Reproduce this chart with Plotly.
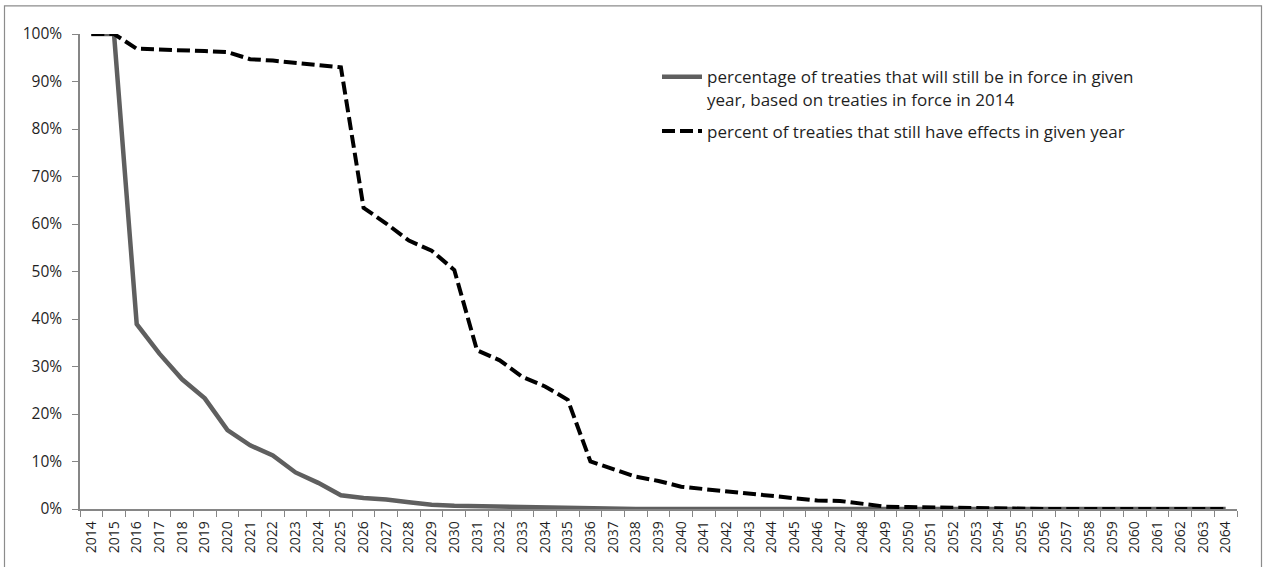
import plotly.graph_objects as go

years = [str(y) for y in range(2014, 2065)]

in_force = [100, 100, 38.9, 32.7, 27.3, 23.3, 16.6, 13.4, 11.3, 7.7, 5.5, 2.9, 2.3, 2.0,
            1.4, 0.9, 0.7, 0.6, 0.5, 0.4, 0.3, 0.1] + [0] * 29

effects = [100, 100, 96.9, 96.8, 96.6, 96.4, 96.2, 94.7, 94.4, 94.0, 93.5, 93.0, 63.4, 60.1,
           56.5, 54.4, 50.3, 33.4, 31.3, 27.8, 25.8, 23.0, 10.0, 8.3, 6.8, 5.9, 4.7, 4.2,
           3.7, 3.1, 2.6, 2.2, 1.8, 1.7, 1.0, 0.5, 0.4, 0.3, 0.2, 0.1] + [0] * 11

name_in_force = "percentage of treaties that will still be in force in given<br>year, based on treaties in force in 2014"
name_effects = "percent of treaties that still have effects in given year"

in_force_frac = [v / 100 for v in in_force]
effects_frac = [v / 100 for v in effects]

W, H = 1263, 567
L, R, T, B = 80, 1237, 33.7, 509.3

fig = go.Figure()
fig.add_trace(go.Scatter(x=years, y=in_force_frac, mode="lines", name=name_in_force,
                         legendgroup="a",
                         line=dict(color="#5f5f5f", width=4.5)))
fig.add_trace(go.Scatter(x=years, y=effects_frac, mode="lines", name=name_effects,
                         legendgroup="b",
                         line=dict(color="#000000", width=4, dash="13px,5px")))

font_family = "'Open Sans', 'Noto Sans', sans-serif"
text_color = "#1f1f1f"
axis_color = "#868686"

fig.update_layout(
    width=W, height=H, autosize=False,
    margin=dict(l=L, r=W - R, t=T, b=H - B, pad=0),
    paper_bgcolor="white", plot_bgcolor="white",
    font=dict(family=font_family, size=14, color=text_color),
    showlegend=True,
    legend=dict(x=(657 - L) / (R - L), y=(T - 59) / (B - T) + 1, xanchor="left", yanchor="top",
                bgcolor="rgba(0,0,0,0)", borderwidth=0, valign="top",
                font=dict(family=font_family, size=17, color=text_color),
                tracegroupgap=7, itemwidth=40),
    xaxis=dict(type="category", range=[-0.5, len(years) - 0.5], showgrid=False, zeroline=False,
               showline=True, linecolor=axis_color, linewidth=1.5, ticks="outside", tickson="boundaries",
               ticklen=6, tickcolor=axis_color, tickwidth=1, tickangle=-90, ticklabelstandoff=5,
               tickfont=dict(family=font_family, size=14, color=text_color), fixedrange=True),
    yaxis=dict(range=[0, 1], tickformat=".0%", dtick=0.1, showgrid=False, zeroline=False,
               showline=True, linecolor=axis_color, linewidth=1.5, ticks="outside",
               ticklen=6, tickcolor=axis_color, tickwidth=1, ticklabelstandoff=7,
               tickfont=dict(family=font_family, size=15.5, color=text_color), fixedrange=True),
    shapes=[dict(type="rect", xref="paper", yref="paper",
                 x0=(4.5 - L) / (R - L), x1=(1261.5 - L) / (R - L),
                 y0=(B - 575) / (B - T), y1=(B - 5.5) / (B - T),
                 line=dict(color="#8c8c8c", width=1.2), layer="below")],
)

fig.write_html("out.html", config={"displayModeBar": False},
               post_script="document.body.style.margin='0';document.body.style.overflow='hidden';")
